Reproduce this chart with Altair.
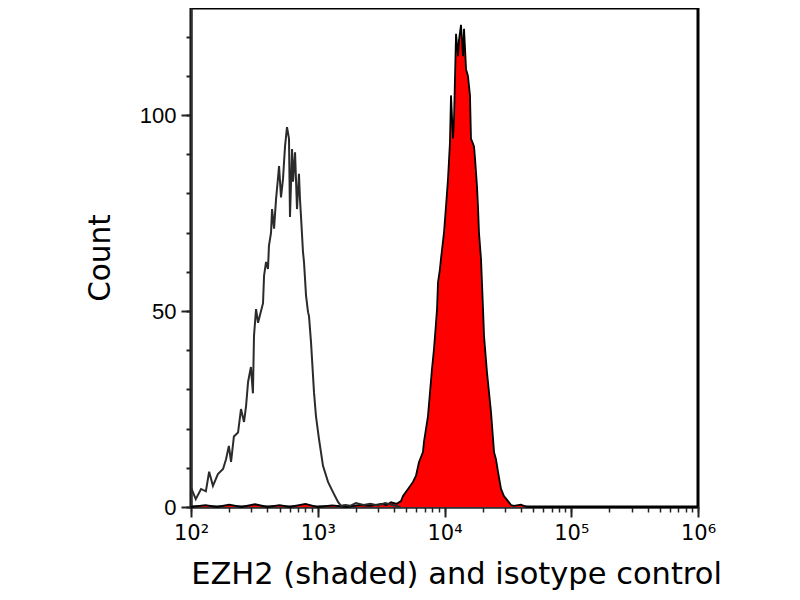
import altair as alt
import pandas as pd

# Isotype control histogram (open grey line)
iso_x = [100, 109, 120, 131, 139, 149, 163, 179, 189, 199, 207, 218, 235, 248,
         262, 272, 282, 297, 308, 314, 326, 338, 370, 377, 391, 405, 412, 428,
         436, 452, 469, 486, 495, 513, 532, 542, 552, 572, 593, 604, 627, 638,
         662, 686, 711, 724, 738, 765, 779, 808, 838, 853, 885, 934, 968, 1023,
         1100, 1205, 1319, 1445, 1525, 1650, 1800, 2000, 2300, 2600, 3000,
         3400, 3900, 4500]
iso_count = [5, 2, 4.6, 4, 9, 5.4, 8.4, 9.7, 12.2, 15.6, 11.5, 18, 19, 25,
             21.7, 25.8, 31.9, 35.7, 29, 43.6, 50.5, 47, 52, 59, 62.5, 60.7,
             66.6, 70, 76, 71, 78.6, 84, 87, 79, 83.7, 88, 92, 96.9, 94, 74,
             91.3, 83, 90.5, 76, 85, 78.6, 74, 65, 62.5, 54, 49.7, 48.7, 42,
             29.3, 23.2, 17.3, 10.5, 6.4, 3.8, 1.3, 0.3, 0.5, 0.3, 1, 0.5, 0.8,
             0.4, 1, 0.5, 0]

# EZH2 histogram (red shaded)
ezh2_x = [100, 130, 160, 200, 250, 320, 400, 500, 600, 800, 1000, 1300, 1700,
          2100, 2600, 3155, 3500, 3784, 4200, 4537, 4707, 5155, 5642, 5960,
          6292, 6761, 6887, 7406, 7687, 7965, 8260, 8414, 8730, 8890, 9204,
          9376, 9908, 10280, 10660, 11040, 11250, 11670, 11890, 12330, 12790,
          13000, 13490, 14000, 14260, 14790, 15310, 15890, 16180, 17100, 17420,
          18030, 18370, 18710, 19410, 20140, 20510, 21630, 22440, 23280, 24600,
          25470, 26420, 27920, 29460, 31700, 33500, 35320, 40000, 45000, 60000,
          100000, 1000000]
ezh2_count = [0, 0.5, 0, 0.6, 0, 0.7, 0, 0.5, 0, 0.8, 0, 0.4, 0, 0.5, 0.3,
              0.8, 0.5, 1.2, 0.8, 1.5, 2.8, 4.6, 6.4, 8, 11.5, 14, 16.6, 23.2,
              29.3, 35.2, 40.3, 43.6, 50.5, 57.4, 60.7, 63.3, 70, 76.8, 83.7,
              93, 105, 94, 99, 120.7, 115, 119, 123, 115, 122, 111.7, 110, 105,
              94, 92, 88.8, 82, 76.8, 70, 63.3, 50.5, 43.6, 34.4, 29.3, 24.2,
              14, 12.2, 9, 4.6, 2.8, 1.5, 0.5, 0.3, 0.6, 0, 0, 0, 0]

y_major = [0, 50, 100]
y_minor = [0, 10, 20, 30, 40, 50, 60, 70, 80, 90, 100, 110, 120]
x_major = [100, 1000, 10000, 100000, 1000000]
x_major_labels = ["10²", "10³", "10⁴", "10⁵", "10⁶"]
x_minor = [k * 10 ** d for d in range(2, 6) for k in range(1, 10)] + [1000000]

iso_df = pd.DataFrame({"x": iso_x, "count": iso_count})
ezh2_df = pd.DataFrame({"x": ezh2_x, "count": ezh2_count})

label_expr = " : ".join(
    f"datum.value == {v} ? '{t}'" for v, t in zip(x_major, x_major_labels)
) + " : ''"

xs = alt.Scale(type="log", domain=[100, 1000000], nice=False)
ys = alt.Scale(domain=[0, 127.3], nice=False, zero=True)

TITLE_FONT = "DejaVu Sans"

x_major_axis = alt.Axis(
    values=x_major, labelExpr=label_expr, tickSize=10, tickWidth=2,
    tickColor="#222222", domainColor="#333333", domainWidth=2,
    labelFont=TITLE_FONT, labelFontSize=21, labelColor="black",
    labelPadding=5, labelFlush=False, grid=False,
    title="EZH2 (shaded) and isotype control", titleFont=TITLE_FONT,
    titleFontSize=30.5, titleFontWeight="normal", titleColor="black",
    titlePadding=16, titleX=265, orient="bottom",
)
x_minor_axis = alt.Axis(
    values=x_minor, labels=False, tickSize=5, tickWidth=1.5,
    tickColor="#222222", domain=False, grid=False, title=None,
    orient="bottom",
)
y_major_axis = alt.Axis(
    values=y_major, tickSize=10, tickWidth=2, tickColor="#222222",
    domainColor="#333333", domainWidth=2, labelFont="Liberation Sans",
    labelFontSize=22, labelColor="black", labelPadding=5, grid=False,
    title="Count", titleFont=TITLE_FONT, titleFontSize=29.5,
    titleFontWeight="normal", titleColor="black", titlePadding=24,
    orient="left",
)
y_minor_axis = alt.Axis(
    values=y_minor, labels=False, tickSize=5, tickWidth=2,
    tickColor="#222222", domain=False, grid=False, title=None,
    orient="left",
)

red = alt.Chart(ezh2_df).mark_area(
    color="#ff0000", opacity=1, interpolate="linear",
    line={"color": "black", "strokeWidth": 1.8},
).encode(
    x=alt.X("x:Q", scale=xs, axis=x_major_axis),
    y=alt.Y("count:Q", scale=ys, axis=y_major_axis),
)

grey = alt.Chart(iso_df).mark_line(
    color="#2b2b2b", strokeWidth=2, interpolate="linear",
).encode(
    x=alt.X("x:Q", scale=xs, axis=x_minor_axis),
    y=alt.Y("count:Q", scale=ys, axis=y_minor_axis),
)

chart = alt.layer(red, grey).resolve_axis(
    x="independent", y="independent"
).properties(
    width=507, height=499,
    padding={"left": 77, "top": 0, "right": 10, "bottom": 5},
).configure(
    background="white"
).configure_view(
    stroke="black", strokeWidth=3
)

chart.save("out.html", embed_options={"renderer": "svg", "actions": False})
